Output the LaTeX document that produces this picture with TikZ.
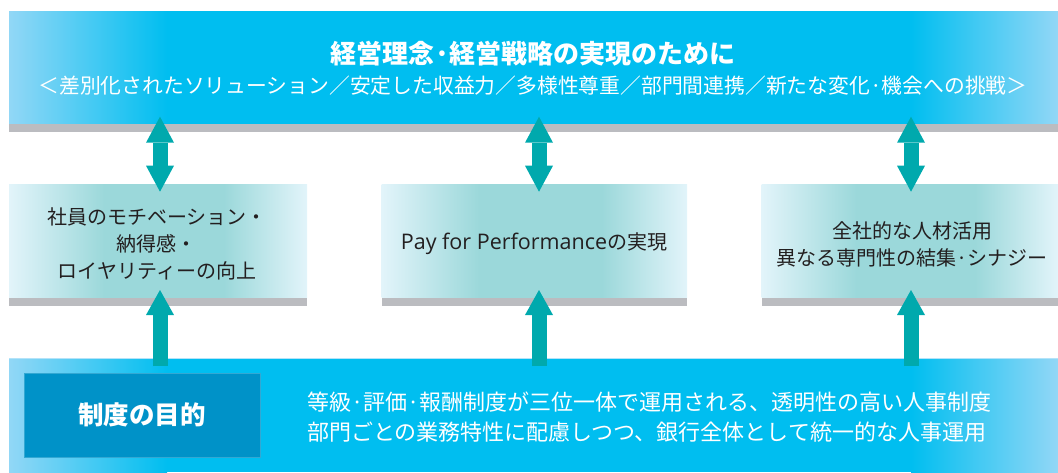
\documentclass[tikz,border=0pt]{standalone}
\usepackage{fontspec}
\setmainfont{Noto Sans CJK JP}
\newfontfamily\latinf{Open Sans}
\usetikzlibrary{arrows.meta,calc}
\definecolor{sky}{HTML}{00BEF0}
\definecolor{skyl}{HTML}{92D7F6}
\definecolor{stripc}{HTML}{BBBCC0}
\definecolor{tealc}{HTML}{9BD8DA}
\definecolor{teall}{HTML}{E2F4FA}
\definecolor{arrowc}{HTML}{00A9AD}
\definecolor{darkb}{HTML}{0092C8}
\definecolor{txtc}{HTML}{231F20}
\begin{document}
\begin{tikzpicture}[x=1pt,y=-1pt,
  boxtxt/.style={align=center,text=txtc,inner sep=0pt,font=\fontsize{20}{27}\selectfont},
  dblarrow/.style={line width=15pt,draw=arrowc,
    {Triangle[width=28pt,length=26pt,line width=0pt,fill=arrowc]}-{Triangle[width=28pt,length=26pt,line width=0pt,fill=arrowc]}},
  uparrow/.style={line width=15pt,draw=arrowc,
    -{Triangle[width=28pt,length=25pt,line width=0pt,fill=arrowc]}}]
\useasboundingbox (0,0) rectangle (1058,472);
% top band
\fill[sky] (9,11) rectangle (1058,124);
\shade[left color=skyl,right color=sky] (9,11) rectangle (167,124);
\shade[left color=sky,right color=skyl] (911,11) rectangle (1058,124);
\fill[stripc] (9,124) rectangle (1058,131.7);
\node[inner sep=0pt,minimum width=1049pt,minimum height=113pt] (top) at (533.5,67.5) {};
\node[text=white,inner sep=0pt,font=\bfseries\fontsize{26}{30}\selectfont] (ttl) at (533,54) {経営理念·経営戦略の実現のために};
\node[text=white,inner sep=0pt,font=\fontsize{20.8}{25}\selectfont] (sub) at (533,86) {＜差別化されたソリューション／安定した収益力／多様性尊重／部門間連携／新たな変化·機会への挑戦＞};
% middle boxes
\foreach \l/\r in {9/307,381.7/687,761.7/1058}{
  \pgfmathsetmacro\wa{\l+0.32*(\r-\l)}
  \pgfmathsetmacro\wb{\l+0.72*(\r-\l)}
  \fill[tealc] (\l,184) rectangle (\r,297.7);
  \shade[left color=teall,right color=tealc] (\l,184) rectangle (\wa,297.7);
  \shade[left color=tealc,right color=teall] (\wb,184) rectangle (\r,297.7);
  \fill[stripc] (\l,297.7) rectangle (\r,305.7);
}
\node[boxtxt] (b1) at (157,244) {社員のモチベーション・\\納得感・\\ロイヤリティーの向上};
\node[boxtxt] (b2) at (534,244) {{\latinf\fontsize{21.5}{27}\selectfont Pay for Performance}の実現};
\node[boxtxt] (b3) at (912,244.5) {全社的な人材活用\\異なる専門性の結集·シナジー};
% bottom band
\fill[sky] (9,358) rectangle (1058,472);
\shade[left color=skyl,right color=sky] (9,358) rectangle (167,472);
\shade[left color=sky,right color=skyl] (911,358) rectangle (1058,472);
\draw[skyl!70!white,line width=1pt] (9,358.5) -- (1058,358.5);
\node[inner sep=0pt,minimum width=1049pt,minimum height=114pt] (bot) at (533.5,415) {};
\node[fill=darkb,draw=darkb!80!white,line width=0.6pt,minimum width=236pt,minimum height=84pt,inner sep=0pt,
  text=white,font=\bfseries\fontsize{25.5}{30}\selectfont] (goal) at (142,415) {制度の目的};
\node[anchor=west,align=left,text=white,inner sep=0pt,font=\fontsize{22}{30}\selectfont] (desc) at (307,416.7)
  {等級·評価·報酬制度が三位一体で運用される、透明性の高い人事制度\\部門ごとの業務特性に配慮しつつ、銀行全体として統一的な人事運用};
% arrows
\coordinate (a1t) at (160,116.7); \coordinate (a1b) at (160,191.7);
\coordinate (a2t) at (539,116.7); \coordinate (a2b) at (539,191.7);
\coordinate (a3t) at (911,116.7); \coordinate (a3b) at (911,191.7);
\coordinate (c1t) at (160,290); \coordinate (c1b) at (160,366);
\coordinate (c2t) at (539,290); \coordinate (c2b) at (539,366);
\coordinate (c3t) at (911,290); \coordinate (c3b) at (911,366);
\draw[dblarrow] (a1t) -- (a1b);
\draw[dblarrow] (a2t) -- (a2b);
\draw[dblarrow] (a3t) -- (a3b);
\draw[uparrow] (c1b) -- (c1t);
\draw[uparrow] (c2b) -- (c2t);
\draw[uparrow] (c3b) -- (c3t);
\end{tikzpicture}
\end{document}
